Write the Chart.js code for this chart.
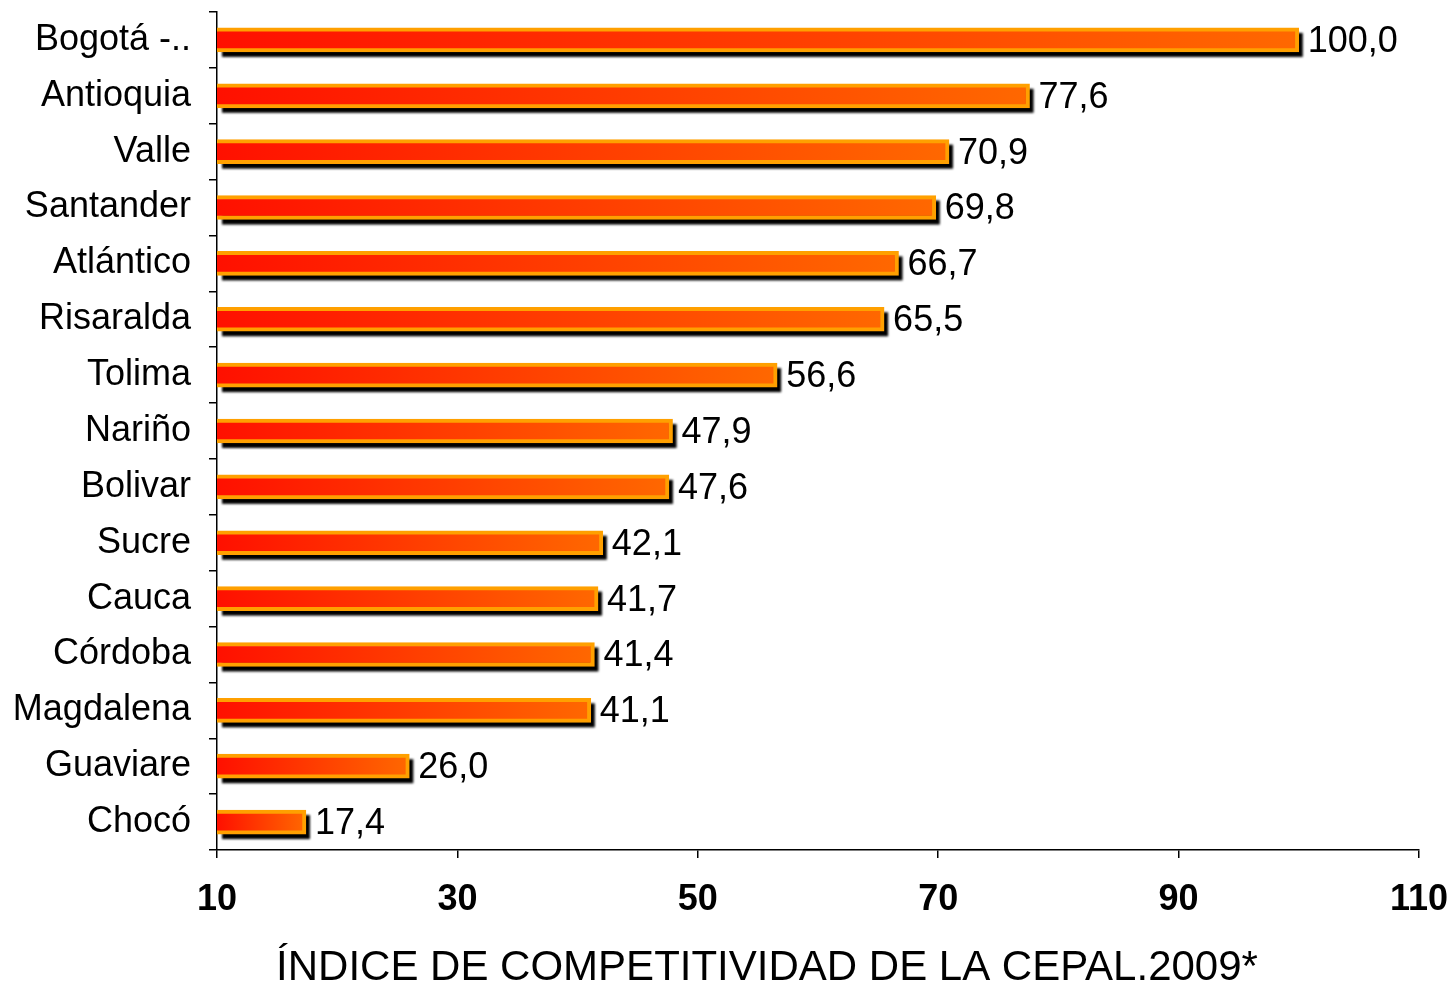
<!DOCTYPE html>
<html>
<head>
<meta charset="utf-8">
<script src="https://cdn.jsdelivr.net/npm/chart.js@4"></script>
<style>
  body { margin: 0; background: #fff; }
</style>
</head>
<body>
<canvas id="myChart" width="1454" height="987"></canvas>
<script>
const ctx = document.getElementById('myChart')
const labels = ["Bogotá -..", "Antioquia", "Valle", "Santander", "Atlántico", "Risaralda", "Tolima", "Nariño", "Bolivar", "Sucre", "Cauca", "Córdoba", "Magdalena", "Guaviare", "Chocó"]
const values = [100.0, 77.6, 70.9, 69.8, 66.7, 65.5, 56.6, 47.9, 47.6, 42.1, 41.7, 41.4, 41.1, 26.0, 17.4]
const xTicks = [10, 30, 50, 70, 90, 110]
const axisTitle = 'ÍNDICE DE COMPETITIVIDAD DE LA CEPAL.2009*'
const FONT = '"Liberation Sans", Arial, sans-serif'

// black drop shadow under the bars + value labels at the end of each bar
const barExtras = {
    id: 'barExtras',
    beforeDatasetsDraw(chart) {
        const c = chart.ctx
        const area = chart.chartArea
        const meta = chart.getDatasetMeta(0)
        c.save()
        c.fillStyle = '#000'
        c.filter = 'blur(0.8px)'
        meta.data.forEach((bar) => {
            const p = bar.getProps(['x', 'y', 'height'], true)
            const left = area.left + 1
            c.fillRect(left + 4, p.y - p.height / 2 + 5, p.x - left, p.height)
        })
        c.restore()
    },
    afterDatasetsDraw(chart) {
        const c = chart.ctx
        const meta = chart.getDatasetMeta(0)
        c.save()
        c.font = '36px ' + FONT
        c.fillStyle = '#000'
        c.textAlign = 'left'
        c.textBaseline = 'middle'
        meta.data.forEach((bar, i) => {
            c.fillText(values[i].toFixed(1).replace('.', ','), bar.x + 9, bar.y + 2)
        })
        c.restore()
    },
    // axis title sits a bit left of the plot centre in the original
    afterDraw(chart) {
        const c = chart.ctx
        const area = chart.chartArea
        c.save()
        c.font = '42px ' + FONT
        c.fillStyle = '#000'
        c.textAlign = 'center'
        c.textBaseline = 'middle'
        c.fillText(axisTitle, (area.left + area.right) / 2 - 51, 968)
        c.restore()
    }
}

new Chart(ctx, {
    type: 'bar',
    data: {
        labels: labels,
        datasets: [{
            data: values,
            backgroundColor: (context) => {
                const chart = context.chart
                const area = chart.chartArea
                if (!area || context.dataIndex === undefined) return '#ff3300'
                const end = chart.scales.x.getPixelForValue(values[context.dataIndex])
                const g = chart.ctx.createLinearGradient(area.left, 0, Math.max(end, area.left + 1), 0)
                g.addColorStop(0, '#ff1000')
                g.addColorStop(1, '#ff6800')
                return g
            },
            borderColor: '#ffa000',
            borderWidth: 4,
            borderSkipped: false,
            barThickness: 24
        }]
    },
    options: {
        indexAxis: 'y',
        responsive: false,
        animation: false,
        devicePixelRatio: 1,
        layout: { padding: { top: 12, right: 35, left: 0, bottom: 0 } },
        plugins: {
            legend: { display: false },
            tooltip: { enabled: false }
        },
        scales: {
            x: {
                min: 10,
                max: 110,
                afterBuildTicks: (scale) => { scale.ticks = xTicks.map(v => ({ value: v })) },
                afterFit: (scale) => {
                    scale.height = 137
                    scale.paddingLeft = 0
                    scale.paddingRight = 0
                },
                grid: { drawOnChartArea: false, drawTicks: true, tickLength: 8, color: '#000', lineWidth: 1.5 },
                border: { color: '#000', width: 1.5 },
                ticks: {
                    color: '#000',
                    padding: 20,
                    maxRotation: 0,
                    font: { family: FONT, size: 36, weight: 'bold' }
                }
            },
            y: {
                afterFit: (scale) => {
                    scale.width = 217
                    scale.paddingTop = 0
                    scale.paddingBottom = 0
                },
                grid: { drawOnChartArea: false, drawTicks: true, tickLength: 8, color: '#000', lineWidth: 1.5, offset: true },
                border: { color: '#000', width: 1.5 },
                ticks: {
                    color: '#000',
                    padding: 18,
                    font: { family: FONT, size: 36 }
                }
            }
        }
    },
    plugins: [barExtras]
})
</script>
</body>
</html>
